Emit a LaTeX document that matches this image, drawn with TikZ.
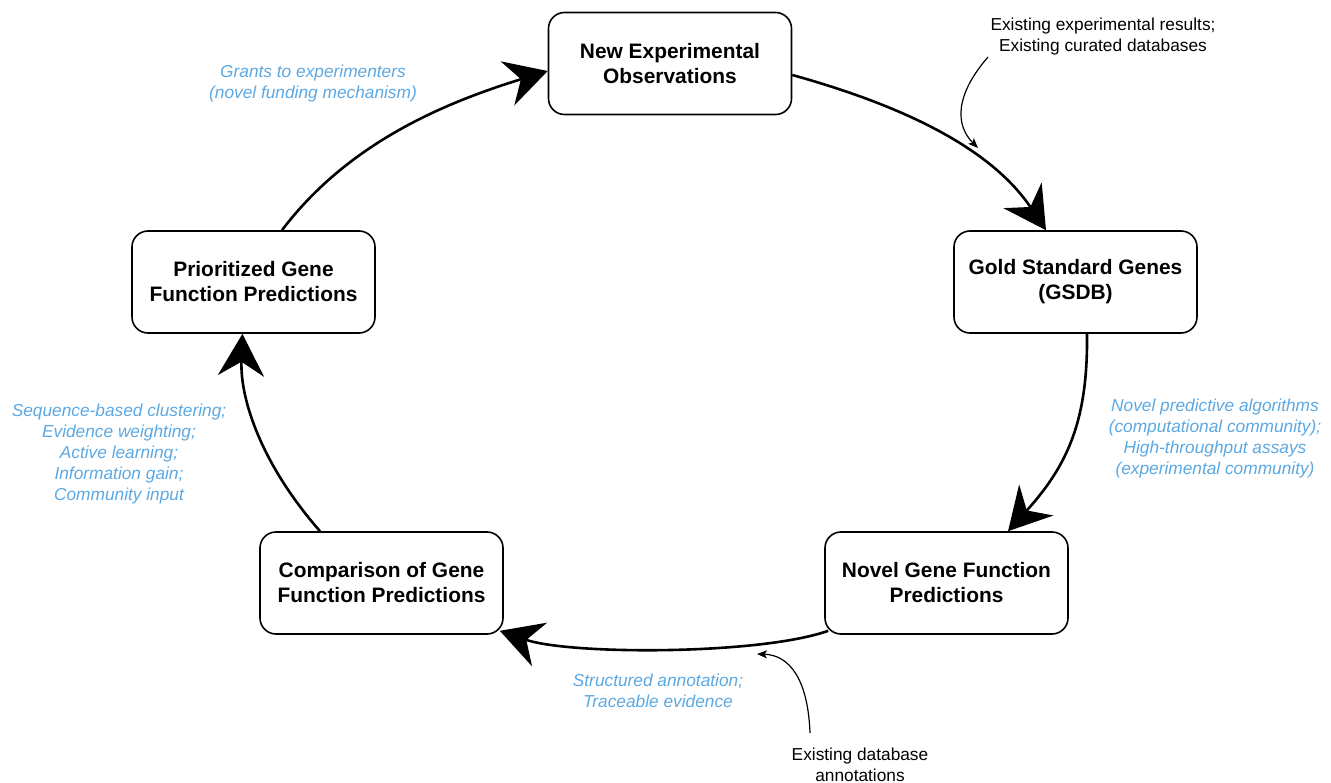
\documentclass[tikz,border=0pt]{standalone}
\usepackage{fontspec}
\setmainfont{Liberation Sans}
\usetikzlibrary{arrows.meta,calc}
\definecolor{lblue}{RGB}{92,168,226}
\begin{document}
\begin{tikzpicture}[x=1pt,y=-1pt,
  box/.style={draw, line width=1.6pt, rounded corners=16pt, minimum width=243pt, minimum height=102pt, align=center, inner sep=0pt, font=\fontsize{20.9}{25}\selectfont\bfseries},
  flow/.style={line width=2.6pt, -{Stealth[length=42pt,width=46pt,inset=14pt]}},
  feeder/.style={line width=1.2pt, -{Stealth[length=10pt,width=8pt,inset=2.5pt]}},
  bluelbl/.style={text=lblue, align=center, inner sep=0pt, font=\fontsize{17.3}{21}\selectfont\itshape},
  notelbl/.style={align=center, inner sep=0pt, font=\fontsize{17.3}{21}\selectfont},
]
\useasboundingbox (0,0) rectangle (1331,783);

\node[box] (newexp) at (670,63.5) {New Experimental\\Observations};
\node[box] (gold) at (1075.5,282) {Gold Standard Genes\\(GSDB)};
\node[box] (novel) at (946.5,583) {Novel Gene Function\\Predictions};
\node[box] (comp) at (381.5,583) {Comparison of Gene\\Function Predictions};
\node[box] (prio) at (253.5,282) {Prioritized Gene\\Function Predictions};

\node[notelbl] (ext1) at (1103,37) {Existing experimental results;\\Existing curated databases};
\node[notelbl] (ext2) at (860,765) {Existing database\\annotations};

\node[bluelbl] (grants) at (313,84) {Grants to experimenters\\(novel funding mechanism)};
\node[bluelbl] (algs) at (1215,439) {Novel predictive algorithms\\(computational community);\\High-throughput assays\\(experimental community)};
\node[bluelbl] (struct) at (658,691) {Structured annotation;\\Traceable evidence};
\node[bluelbl] (seq) at (119,454) {Sequence-based clustering;\\Evidence weighting;\\Active learning;\\Information gain;\\Community input};

\coordinate (f1s) at (988,57);
\coordinate (f1e) at (978,148);
\coordinate (f2s) at (810,733);
\coordinate (f2e) at (757,654);

\draw[flow] ($(prio.north)+(28.5,0)$) .. controls (348,143) and (444,103) .. ($(newexp.west)+(0,7.5)$);
\draw[flow] ($(newexp.east)+(0,11.5)$) .. controls (893,103) and (988,144) .. ($(gold.north)+(-29.5,0)$);
\draw[flow] ($(gold.south)+(11.5,0)$) .. controls (1088,420) and (1068,465) .. ($(novel.north)+(61.5,0)$);
\draw[flow] ($(novel.south west)+(4,-4)$) .. controls (760,655) and (570,655) .. ($(comp.south east)+(-4,-4)$);
\draw[flow] ($(comp.north)+(-61.5,0)$) .. controls (262,465) and (240,400) .. ($(prio.south)+(-11,0)$);

\draw[feeder] (f1s) .. controls (955,95) and (955,125) .. (f1e);
\draw[feeder] (f2s) .. controls (808,680) and (790,655) .. (f2e);
\end{tikzpicture}
\end{document}
